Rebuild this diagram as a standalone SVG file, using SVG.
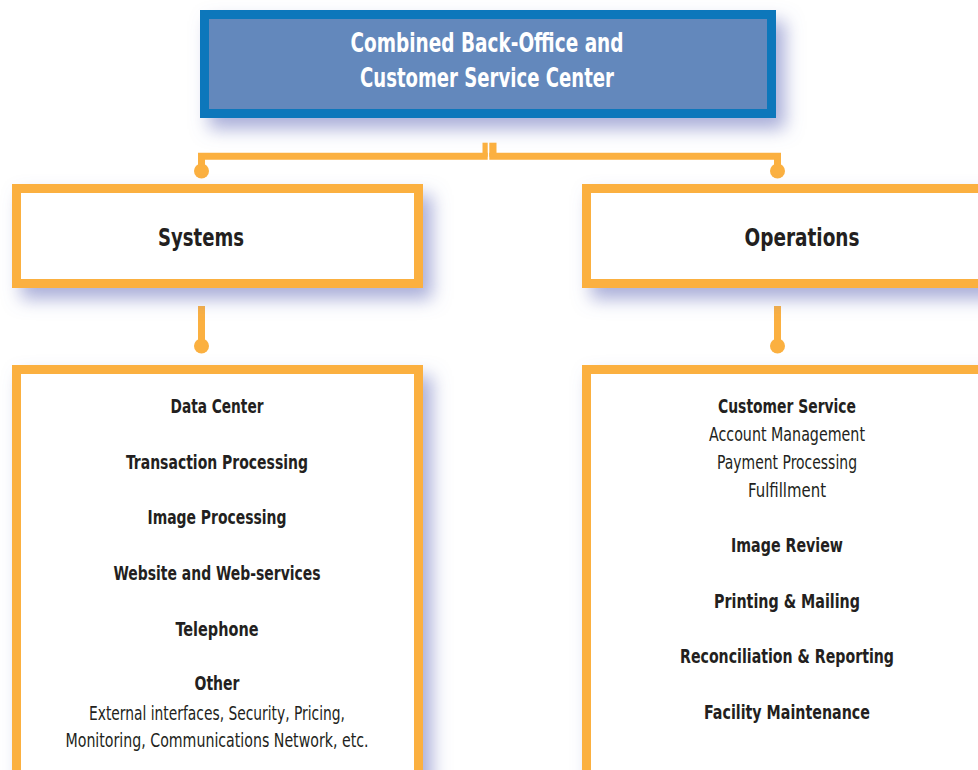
<svg xmlns="http://www.w3.org/2000/svg" width="978" height="770" viewBox="0 0 978 770">
<defs>
<filter id="sh" x="-15%" y="-15%" width="140%" height="160%">
<feDropShadow dx="9" dy="11" stdDeviation="9" flood-color="#6f78c0" flood-opacity="0.6"/>
</filter>
</defs>
<style>
.box{fill:#fff;stroke:#fbb040;stroke-width:9}
.con{fill:none;stroke:#fbb040;stroke-width:7}
.dot,.stub{fill:#fbb040}
text{font-family:"Liberation Sans Narrow","DejaVu Sans Condensed","Liberation Sans",sans-serif;text-anchor:middle;fill:#231f20}
.t{font-size:26px;font-weight:bold;fill:#fff}
.h{font-size:24px;font-weight:bold}
.b{font-size:19px;font-weight:bold}
.r{font-size:19px}
</style>
<rect width="978" height="770" fill="#fff"/>
<g id="top">
<rect x="204.5" y="14.5" width="567" height="99" fill="#6388bc" stroke="#1177bb" stroke-width="9" filter="url(#sh)"/>
<text class="t" x="487" y="52" textLength="273" lengthAdjust="spacingAndGlyphs">Combined Back-Office and</text>
<text class="t" x="487" y="87" textLength="254" lengthAdjust="spacingAndGlyphs">Customer Service Center</text>
</g>
<g id="connectors">
<path class="con" d="M487.7,156.3 H201.5 V170"/>
<path class="con" d="M489.3,156.3 H777.5 V170"/>
<rect class="stub" x="482.5" y="142.7" width="5.2" height="14"/>
<rect class="stub" x="489.3" y="142.7" width="7.2" height="14"/>
<circle class="dot" cx="201.5" cy="171" r="7.5"/>
<circle class="dot" cx="777.5" cy="171" r="7.5"/>
<path class="con" d="M201.5,306 V345"/>
<path class="con" d="M777.5,306 V345"/>
<circle class="dot" cx="201.5" cy="346" r="7.5"/>
<circle class="dot" cx="777.5" cy="346" r="7.5"/>
</g>
<g id="systems">
<rect class="box" x="16.5" y="188.5" width="402" height="95" filter="url(#sh)"/>
<text class="h" x="201" y="246" textLength="86" lengthAdjust="spacingAndGlyphs">Systems</text>
</g>
<g id="operations">
<rect class="box" x="586.5" y="188.5" width="402" height="95" filter="url(#sh)"/>
<text class="h" x="802" y="246" textLength="115" lengthAdjust="spacingAndGlyphs">Operations</text>
</g>
<g id="systems-list">
<rect class="box" x="16.5" y="369.5" width="402" height="410" filter="url(#sh)"/>
<text class="b" x="217" y="413" textLength="93" lengthAdjust="spacingAndGlyphs">Data Center</text>
<text class="b" x="217" y="469" textLength="182" lengthAdjust="spacingAndGlyphs">Transaction Processing</text>
<text class="b" x="217" y="524" textLength="139" lengthAdjust="spacingAndGlyphs">Image Processing</text>
<text class="b" x="217" y="580" textLength="207" lengthAdjust="spacingAndGlyphs">Website and Web-services</text>
<text class="b" x="217" y="636" textLength="83" lengthAdjust="spacingAndGlyphs">Telephone</text>
<text class="b" x="217" y="690" textLength="45" lengthAdjust="spacingAndGlyphs">Other</text>
<text class="r" x="217" y="720" textLength="256" lengthAdjust="spacingAndGlyphs">External interfaces, Security, Pricing,</text>
<text class="r" x="217" y="747" textLength="303" lengthAdjust="spacingAndGlyphs">Monitoring, Communications Network, etc.</text>
</g>
<g id="operations-list">
<rect class="box" x="586.5" y="369.5" width="402" height="410" filter="url(#sh)"/>
<text class="b" x="787" y="413" textLength="138" lengthAdjust="spacingAndGlyphs">Customer Service</text>
<text class="r" x="787" y="441" textLength="156" lengthAdjust="spacingAndGlyphs">Account Management</text>
<text class="r" x="787" y="469" textLength="140" lengthAdjust="spacingAndGlyphs">Payment Processing</text>
<text class="r" x="787" y="497" textLength="78" lengthAdjust="spacingAndGlyphs">Fulfillment</text>
<text class="b" x="787" y="552" textLength="112" lengthAdjust="spacingAndGlyphs">Image Review</text>
<text class="b" x="787" y="608" textLength="146" lengthAdjust="spacingAndGlyphs">Printing &amp; Mailing</text>
<text class="b" x="787" y="663" textLength="214" lengthAdjust="spacingAndGlyphs">Reconciliation &amp; Reporting</text>
<text class="b" x="787" y="719" textLength="166" lengthAdjust="spacingAndGlyphs">Facility Maintenance</text>
</g>
</svg>
